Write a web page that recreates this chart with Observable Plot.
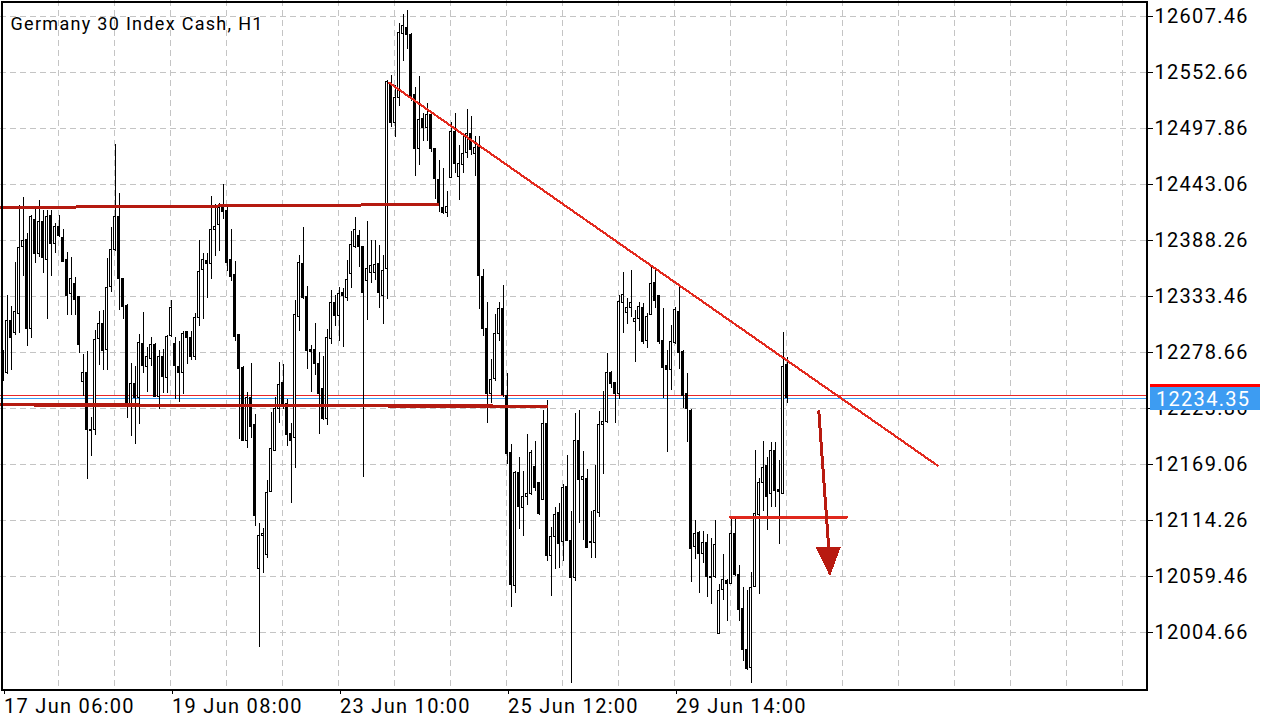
<!DOCTYPE html>
<html><head><meta charset="utf-8">
<script src="https://cdn.jsdelivr.net/npm/d3@7"></script>
<script src="https://cdn.jsdelivr.net/npm/@observablehq/plot@0.6"></script>
<style>
html,body{margin:0;padding:0;background:#fff;overflow:hidden;}
#chart svg{display:block;}
</style></head><body><div id="chart"></div>
<script>
const chartTitle = "Germany 30 Index Cash, H1";

const open = [12271,12259,12310,12298,12317,12382,12389,12302,12409,12376,12407,12370,12413,12385,12402,12391,12370,12336,12346,12333,
12250,12259,12203,12203,12292,12307,12282,12343,12379,12412,12351,12325,12229,12248,12235,12287,12265,12273,12286,12236,
12275,12254,12295,12287,12265,12259,12299,12293,12275,12313,12360,12369,12366,12399,12404,12421,12418,12370,12355,12296,
12264,12193,12235,12208,12067,12100,12081,12143,12183,12224,12249,12229,12199,12195,12314,12366,12333,12282,12282,12268,
12243,12214,12292,12328,12315,12337,12332,12356,12382,12393,12382,12349,12357,12357,12366,12334,12361,12541,12504,12528,
12591,12597,12590,12531,12478,12508,12499,12512,12478,12448,12421,12416,12450,12495,12451,12463,12474,12493,12473,12482,
12353,12302,12239,12253,12297,12322,12237,12181,12051,12161,12127,12138,12141,12167,12151,12135,12209,12080,12099,12122,
12094,12148,12095,12058,12193,12154,12155,12094,12093,12122,12208,12211,12259,12249,12239,12328,12318,12323,12309,12312,
12323,12290,12316,12347,12334,12290,12266,12262,12288,12319,12280,12239,12222,12089,12103,12082,12093,12059,12059,12004,
12047,12056,12053,12102,12061,12028,11988,11970,12050,12120,12151,12168,12141,12183,12145,12141,12267];

const high = [12281,12335,12324,12367,12423,12431,12396,12413,12420,12428,12418,12418,12418,12405,12413,12400,12377,12372,12353,12334,
12277,12280,12216,12301,12319,12320,12371,12401,12483,12435,12352,12326,12268,12265,12297,12318,12284,12294,12288,12281,
12282,12296,12330,12294,12290,12300,12300,12300,12317,12389,12376,12376,12432,12424,12425,12444,12421,12400,12368,12297,
12265,12240,12268,12218,12112,12107,12154,12220,12235,12269,12267,12233,12210,12330,12374,12401,12344,12286,12308,12279,
12275,12302,12340,12335,12343,12342,12369,12398,12411,12399,12383,12407,12389,12389,12384,12374,12545,12550,12540,12601,
12610,12614,12591,12538,12549,12513,12523,12513,12479,12467,12459,12437,12504,12513,12482,12493,12517,12510,12491,12491,
12360,12328,12272,12316,12328,12345,12259,12189,12163,12176,12163,12199,12183,12192,12152,12222,12232,12108,12127,12131,
12150,12178,12124,12219,12222,12182,12165,12124,12169,12221,12241,12278,12261,12250,12335,12357,12332,12359,12320,12328,
12327,12317,12364,12359,12335,12322,12281,12306,12323,12344,12281,12259,12223,12115,12104,12104,12101,12097,12115,12052,
12081,12057,12117,12117,12071,12049,12046,12064,12183,12156,12192,12176,12191,12191,12173,12299,12274];

const low = [12251,12258,12262,12296,12298,12354,12285,12293,12366,12372,12356,12311,12354,12376,12392,12367,12315,12315,12315,12278,
12236,12155,12177,12198,12266,12262,12262,12338,12378,12320,12311,12215,12197,12189,12209,12259,12240,12265,12235,12223,
12239,12239,12294,12233,12230,12238,12267,12271,12271,12305,12311,12332,12351,12373,12378,12409,12358,12349,12290,12194,
12192,12185,12195,12109,11990,12063,12078,12142,12182,12210,12223,12187,12131,12166,12300,12331,12263,12240,12257,12199,
12213,12208,12287,12305,12290,12284,12329,12342,12381,12362,12157,12310,12347,12350,12322,12307,12331,12499,12490,12520,
12564,12576,12525,12451,12462,12486,12486,12475,12429,12416,12414,12411,12449,12454,12428,12454,12469,12472,12451,12321,
12295,12210,12229,12251,12290,12235,12170,12030,12043,12106,12099,12129,12139,12143,12120,12134,12075,12040,12067,12068,
12075,12094,11955,12055,12112,12095,12087,12078,12078,12118,12160,12210,12244,12210,12233,12298,12307,12313,12269,12300,
12287,12283,12315,12322,12287,12234,12181,12242,12287,12263,12224,12191,12054,12077,12043,12073,12039,12033,12058,12003,
12036,12016,12052,12060,12016,11977,11968,11955,12049,12042,12124,12105,12127,12127,12091,12140,12229];

const close = [12254,12310,12293,12319,12381,12388,12302,12412,12376,12407,12372,12412,12385,12402,12393,12368,12334,12351,12331,12286,
12259,12203,12202,12291,12307,12281,12342,12379,12412,12351,12324,12229,12248,12235,12288,12266,12275,12286,12236,12275,
12255,12294,12323,12266,12259,12297,12293,12275,12313,12358,12370,12366,12399,12402,12421,12417,12367,12353,12294,12263,
12193,12235,12206,12119,12100,12102,12142,12185,12224,12247,12229,12198,12193,12316,12367,12332,12281,12280,12268,12239,
12214,12293,12328,12315,12336,12334,12350,12384,12399,12382,12337,12361,12364,12365,12337,12359,12544,12504,12528,12592,
12599,12590,12530,12478,12507,12499,12512,12478,12449,12423,12416,12422,12495,12464,12464,12473,12493,12477,12479,12354,
12302,12239,12252,12297,12322,12238,12180,12052,12161,12128,12138,12141,12181,12147,12121,12209,12080,12099,12120,12092,
12147,12095,12058,12193,12154,12157,12088,12093,12124,12208,12211,12259,12248,12239,12329,12335,12323,12328,12312,12324,
12289,12314,12346,12330,12289,12264,12262,12289,12321,12279,12237,12224,12087,12102,12082,12093,12059,12058,12091,12046,
12057,12053,12102,12061,12027,11988,11969,12049,12121,12151,12166,12138,12183,12144,12143,12265,12234.35];

const priceTicks = [12607.46,12552.66,12497.86,12443.06,12388.26,12333.46,12278.66,12223.86,12169.06,12114.26,12059.46,12004.66];
const timeTickBars = [0, 42, 84, 126, 168];
const timeTickLabels = ["17 Jun 06:00", "19 Jun 08:00", "23 Jun 10:00", "25 Jun 12:00", "29 Jun 14:00"];
const bidPrice = 12234.35;
const askPrice = 12236.75;

// drawn objects (bar index, price)
const upperLevelBars = [-0.625, 108.6];
const upperLevelPrices = [12421, 12424];
const lowerLevelBars = [-0.625, 135.9];
const lowerLevelPrices = [12228, 12226.5];
const trendBars = [96.6, 233.6];
const trendPrices = [12542.9, 12168.6];
const supportBars = [181.9, 210.9];
const supportPrices = [12118, 12118];
const arrowShaftBars = [203.95, 206.4];
const arrowShaftPrices = [12221.4, 12090];
const arrowHeadBars = [206.7, 203.3, 209.3, 206.7];
const arrowHeadPrices = [12061.4, 12088.6, 12088.6, 12061.4];

const bars = open.map((o, i) => ({i, open: o, high: high[i], low: low[i], close: close[i], up: close[i] >= o}));
const pts = (xs, ys) => xs.map((x, j) => ({x, y: ys[j]}));

const yTop = 12623.606, yBottom = 11948.39;
const gridBars = d3.range(13.75, 286, 14);

const plot = Plot.plot({
  width: 1280, height: 720,
  marginLeft: 0, marginRight: 133, marginTop: 0, marginBottom: 30,
  x: {type: "linear", domain: [-0.625, 286.125], axis: null},
  y: {type: "linear", domain: [yBottom, yTop], axis: null},
  style: "font-family: Roboto, sans-serif; font-size: 20px; letter-spacing: 1.3px; shape-rendering: crispEdges; background: #fff; color: #000;",
  marks: [
    Plot.gridY(priceTicks, {stroke: "#c4c4c4", strokeOpacity: 1, strokeDasharray: "6,4"}),
    Plot.gridX(gridBars, {stroke: "#c4c4c4", strokeOpacity: 1, strokeDasharray: "6,4"}),
    Plot.ruleY([askPrice], {stroke: "#e8262a", strokeWidth: 1}),
    Plot.ruleY([bidPrice], {stroke: "#3c9cf2", strokeWidth: 1}),
    Plot.ruleX(bars, {x: "i", y1: "low", y2: "high", stroke: "#000", strokeWidth: 1}),
    Plot.rect(bars, {x1: d => d.i - 0.25, x2: d => d.i + 0.25, y1: "open", y2: "close",
      fill: d => d.up ? "#fff" : "#000", stroke: "#000", strokeWidth: 1}),
    Plot.line(pts(upperLevelBars, upperLevelPrices), {x: "x", y: "y", stroke: "#b51a10", strokeWidth: 3}),
    Plot.line(pts(lowerLevelBars, lowerLevelPrices), {x: "x", y: "y", stroke: "#b51a10", strokeWidth: 3.3}),
    Plot.line(pts(trendBars, trendPrices), {x: "x", y: "y", stroke: "#e32a1e", strokeWidth: 2.2}),
    Plot.line(pts(supportBars, supportPrices), {x: "x", y: "y", stroke: "#e0281c", strokeWidth: 2.8}),
    Plot.line(pts(arrowShaftBars, arrowShaftPrices), {x: "x", y: "y", stroke: "#b81a10", strokeWidth: 3}),
    Plot.line(pts(arrowHeadBars, arrowHeadPrices), {x: "x", y: "y", stroke: "#b81a10", fill: "#b81a10", strokeWidth: 1}),
    Plot.frame({stroke: "#000", strokeWidth: 2, inset: 1}),
    Plot.axisY(priceTicks, {anchor: "right", tickSize: 5, tickPadding: 2, tickFormat: d => d.toFixed(2), fontSize: 20}),
    Plot.axisX(timeTickBars, {anchor: "bottom", tickSize: 4, tickPadding: 4, textAnchor: "start", dx: 1,
      tickFormat: d => timeTickLabels[timeTickBars.indexOf(d)], fontSize: 20}),
    Plot.text([chartTitle], {frameAnchor: "top-left", text: d => d, dx: 10, dy: 17, lineAnchor: "top", textAnchor: "start", fontSize: 18, fill: "#000"})
  ]
});

document.getElementById("chart").appendChild(plot);

// current price label on the price axis
const svg = d3.select(plot);
const yb = plot.scale("y").apply(bidPrice);
const g = svg.append("g");
g.append("rect").attr("x", 1150).attr("y", yb - 13.8).attr("width", 110).attr("height", 3.2).attr("fill", "#ff0000");
g.append("rect").attr("x", 1150).attr("y", yb - 10.6).attr("width", 110).attr("height", 23).attr("fill", "#3d9cf2");
g.append("text").attr("x", 1156).attr("y", yb + 8.5).attr("text-anchor", "start").attr("fill", "#fff").attr("font-size", 20)
  .style("letter-spacing", "1.3px").text(bidPrice.toFixed(2));
</script>
</body></html>
